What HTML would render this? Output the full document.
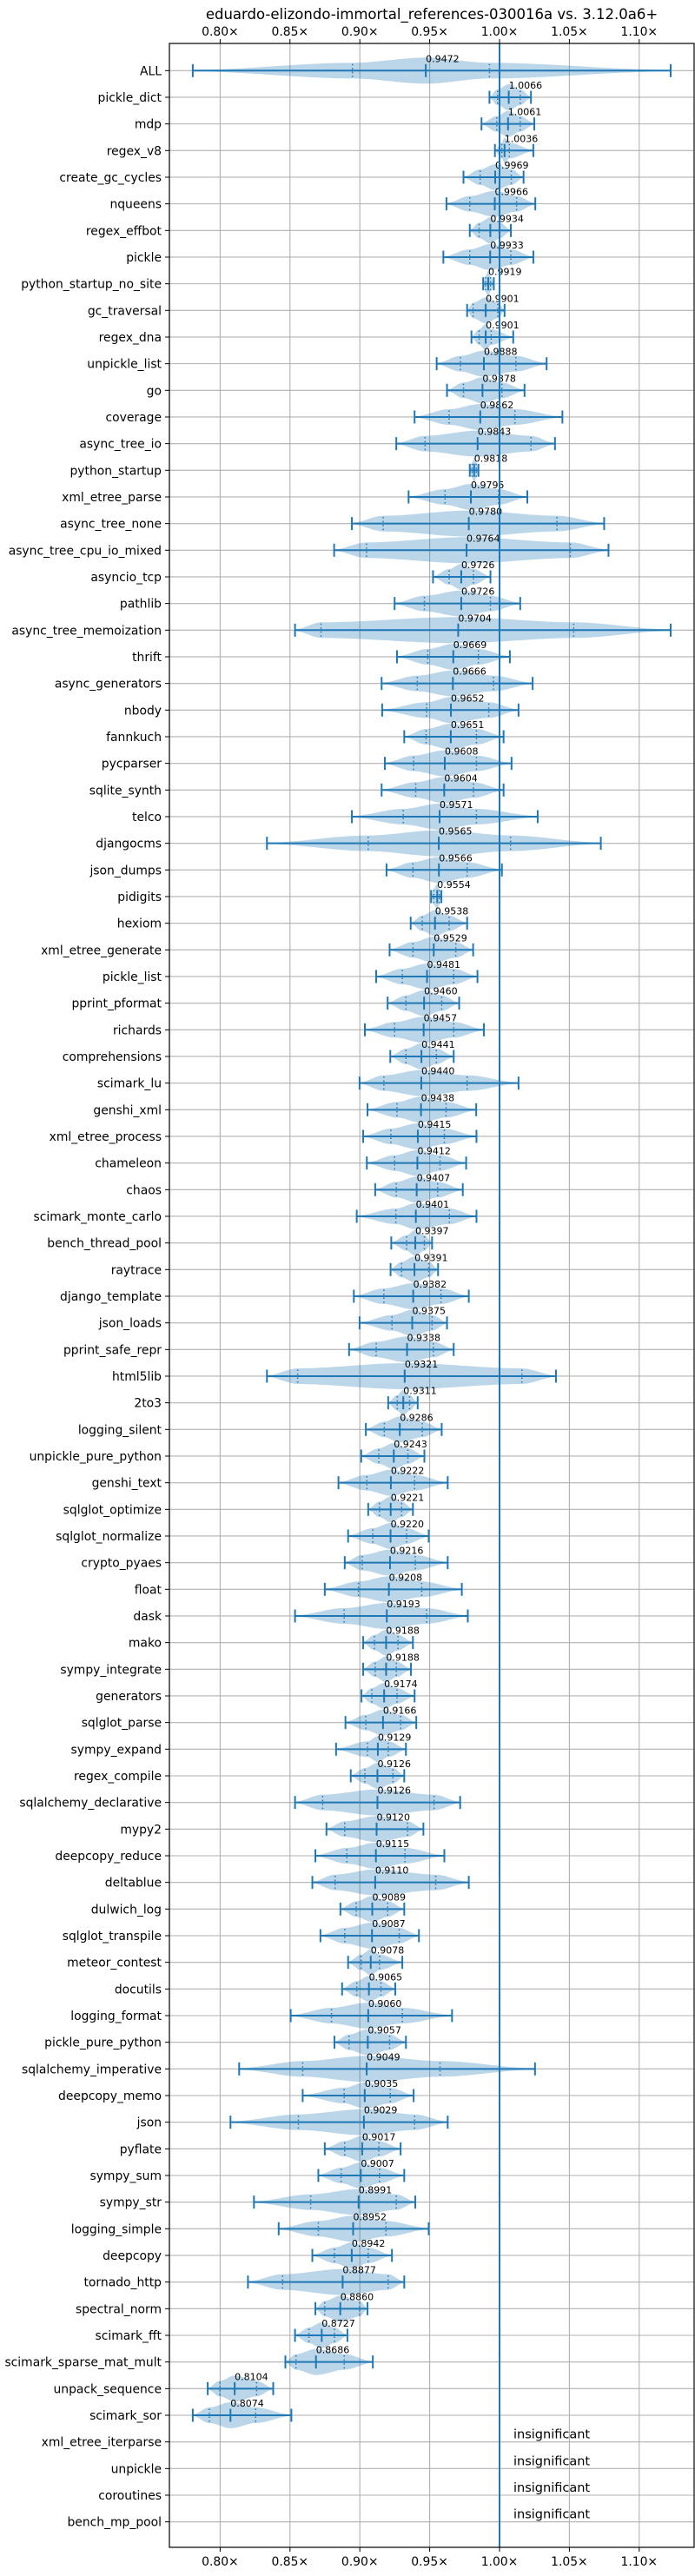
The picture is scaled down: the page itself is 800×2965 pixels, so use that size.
<!DOCTYPE html>
<html><head><meta charset="utf-8">
<style>
html,body{margin:0;padding:0;background:#fff;}
svg text{font-family:"DejaVu Sans","Liberation Sans",sans-serif;}
</style></head>
<body>
<svg id="chart" width="800" height="2960" viewBox="0 0 800 2960" xmlns="http://www.w3.org/2000/svg">
<text x="497" y="22" font-size="16.5" text-anchor="middle" fill="#000">eduardo-elizondo-immortal_references-030016a vs. 3.12.0a6+</text>
<g id="grid"></g>
<g id="marks"></g>
<g id="axes"></g>
</svg>
<script>
const categories = ["ALL","pickle_dict","mdp","regex_v8","create_gc_cycles","nqueens","regex_effbot","pickle","python_startup_no_site","gc_traversal","regex_dna","unpickle_list","go","coverage","async_tree_io","python_startup","xml_etree_parse","async_tree_none","async_tree_cpu_io_mixed","asyncio_tcp","pathlib","async_tree_memoization","thrift","async_generators","nbody","fannkuch","pycparser","sqlite_synth","telco","djangocms","json_dumps","pidigits","hexiom","xml_etree_generate","pickle_list","pprint_pformat","richards","comprehensions","scimark_lu","genshi_xml","xml_etree_process","chameleon","chaos","scimark_monte_carlo","bench_thread_pool","raytrace","django_template","json_loads","pprint_safe_repr","html5lib","2to3","logging_silent","unpickle_pure_python","genshi_text","sqlglot_optimize","sqlglot_normalize","crypto_pyaes","float","dask","mako","sympy_integrate","generators","sqlglot_parse","sympy_expand","regex_compile","sqlalchemy_declarative","mypy2","deepcopy_reduce","deltablue","dulwich_log","sqlglot_transpile","meteor_contest","docutils","logging_format","pickle_pure_python","sqlalchemy_imperative","deepcopy_memo","json","pyflate","sympy_sum","sympy_str","logging_simple","deepcopy","tornado_http","spectral_norm","scimark_fft","scimark_sparse_mat_mult","unpack_sequence","scimark_sor","xml_etree_iterparse","unpickle","coroutines","bench_mp_pool"];
const medians = [0.9472,1.0066,1.0061,1.0036,0.9969,0.9966,0.9934,0.9933,0.9919,0.9901,0.9901,0.9888,0.9878,0.9862,0.9843,0.9818,0.9795,0.9780,0.9764,0.9726,0.9726,0.9704,0.9669,0.9666,0.9652,0.9651,0.9608,0.9604,0.9571,0.9565,0.9566,0.9554,0.9538,0.9529,0.9481,0.9460,0.9457,0.9441,0.9440,0.9438,0.9415,0.9412,0.9407,0.9401,0.9397,0.9391,0.9382,0.9375,0.9338,0.9321,0.9311,0.9286,0.9243,0.9222,0.9221,0.9220,0.9216,0.9208,0.9193,0.9188,0.9188,0.9174,0.9166,0.9129,0.9126,0.9126,0.9120,0.9115,0.9110,0.9089,0.9087,0.9078,0.9065,0.9060,0.9057,0.9049,0.9035,0.9029,0.9017,0.9007,0.8991,0.8952,0.8942,0.8877,0.8860,0.8727,0.8686,0.8104,0.8074,null,null,null,null];
const mins = [0.7804,0.9928,0.9871,0.9967,0.9742,0.962,0.9787,0.9598,0.9883,0.9768,0.9799,0.955,0.9624,0.9392,0.9261,0.9787,0.9349,0.8943,0.8816,0.9524,0.9249,0.8536,0.9266,0.9156,0.916,0.9318,0.9179,0.9156,0.8943,0.8335,0.9191,0.951,0.9364,0.9213,0.9117,0.9199,0.9036,0.9218,0.8998,0.9055,0.9024,0.905,0.911,0.8978,0.9225,0.922,0.8957,0.8998,0.8923,0.8335,0.9203,0.9043,0.901,0.8847,0.906,0.8916,0.8892,0.8749,0.8536,0.9024,0.9024,0.9012,0.8897,0.883,0.8935,0.8536,0.8761,0.8682,0.866,0.8861,0.8718,0.8916,0.8873,0.8505,0.8818,0.8136,0.8591,0.8074,0.8749,0.8703,0.8242,0.8419,0.866,0.8199,0.8682,0.8536,0.8467,0.7911,0.7804,null,null,null,null];
const maxs = [1.1225,1.0225,1.0249,1.0242,1.0172,1.0256,1.0081,1.0242,0.9959,1.0036,1.0098,1.0337,1.0179,1.045,1.0397,0.9849,1.0199,1.0749,1.078,0.9935,1.0148,1.1225,1.0074,1.0237,1.0136,1.0029,1.0086,1.0029,1.0273,1.0725,1.0017,0.9584,0.9768,0.9811,0.9842,0.9711,0.9888,0.9672,1.0136,0.9833,0.9835,0.9761,0.9737,0.9835,0.9517,0.956,0.978,0.9624,0.9672,1.0404,0.9414,0.9586,0.9462,0.9629,0.938,0.9493,0.9629,0.973,0.9773,0.938,0.9366,0.9392,0.9404,0.933,0.9318,0.9718,0.9455,0.9605,0.978,0.9318,0.9423,0.9304,0.9254,0.966,0.933,1.0254,0.9385,0.9629,0.9292,0.9318,0.9397,0.9493,0.923,0.9318,0.9055,0.8911,0.9093,0.838,0.851,null,null,null,null];
const q1s = [0.8947,0.9986,0.998,1.0017,0.9861,0.9787,0.9854,0.9787,0.99,0.9811,0.9854,0.972,0.9742,0.9639,0.9467,0.9804,0.961,0.9167,0.9048,0.9639,0.9462,0.8722,0.9486,0.9411,0.9478,0.9474,0.9385,0.94,0.9311,0.906,0.938,0.9529,0.9447,0.938,0.9304,0.933,0.9249,0.933,0.9172,0.9266,0.9222,0.9249,0.9261,0.9258,0.9335,0.9299,0.9172,0.923,0.9117,0.8555,0.9268,0.9175,0.9136,0.905,0.9141,0.9093,0.9017,0.899,0.8888,0.9105,0.911,0.9086,0.9043,0.9055,0.9036,0.8734,0.8892,0.8907,0.8823,0.8974,0.8892,0.901,0.8978,0.8797,0.8923,0.8591,0.8888,0.856,0.8892,0.8866,0.8648,0.8703,0.8818,0.8447,0.8749,0.8636,0.8543,0.7998,0.7923,null,null,null,null];
const q3s = [0.9928,1.0148,1.0148,1.007,1.0084,1.0122,1.0002,1.0081,0.9935,0.9988,0.994,1.0117,1.0017,1.011,1.0225,0.9833,0.9993,1.0411,1.0507,0.9813,0.9935,1.0531,0.9849,0.9957,0.9923,0.9835,0.9835,0.9813,0.9835,1.0079,0.9768,0.9569,0.9639,0.9687,0.9672,0.9586,0.9672,0.9548,0.9768,0.9617,0.9605,0.9574,0.9557,0.9641,0.9462,0.9493,0.9581,0.9517,0.9526,1.016,0.9356,0.9447,0.9344,0.9392,0.9299,0.9335,0.9397,0.9443,0.9478,0.9273,0.9261,0.9266,0.9292,0.9203,0.9237,0.9531,0.9342,0.9323,0.9543,0.9199,0.9282,0.9141,0.9151,0.9304,0.9213,0.9574,0.9218,0.9392,0.9136,0.9141,0.9261,0.9187,0.906,0.9203,0.8998,0.8818,0.8888,0.8261,0.8254,null,null,null,null];
const xTicks = [0.80,0.85,0.90,0.95,1.00,1.05,1.10];
const xTickLabels = ["0.80x","0.85x","0.90x","0.95x","1.00x","1.05x","1.10x"];

const NS = "http://www.w3.org/2000/svg";
const L = 195, R = 799, T = 50, B = 2932;
const xS = v => 575 + (v - 1) * 1608;
const yS = i => 81.3 + i * 30.667;
const BLUE = "#1f77b4";
function mk(parent, tag, attrs, text) {
  const e = document.createElementNS(NS, tag);
  for (const k in attrs) e.setAttribute(k, attrs[k]);
  if (text !== undefined) e.textContent = text;
  parent.appendChild(e);
  return e;
}
const grid = document.getElementById('grid');
const marks = document.getElementById('marks');
const axes = document.getElementById('axes');

// vertical grid + tick labels
xTicks.forEach((t, k) => {
  const x = xS(t);
  const g = mk(grid, 'line', {x1: x, x2: x, y1: T, y2: B, stroke: '#b0b0b0', 'stroke-width': 1.1});
  
  
  mk(axes, 'line', {x1: x, x2: x, y1: T - 5, y2: T, stroke: '#000', 'stroke-width': 1});
  mk(axes, 'line', {x1: x, x2: x, y1: B, y2: B + 5, stroke: '#000', 'stroke-width': 1});
  const tt = mk(axes, 'text', {x: x, y: T - 9, 'font-size': 13.9, 'text-anchor': 'middle'}, xTickLabels[k].replace('x', '\u00d7'));
  
  
  const tb = mk(axes, 'text', {x: x, y: B + 21, 'font-size': 13.9, 'text-anchor': 'middle'}, xTickLabels[k].replace('x', '\u00d7'));
  
  
});

// horizontal grid + y labels
categories.forEach((c, i) => {
  const y = yS(i);
  const g = mk(grid, 'line', {x1: L, x2: R, y1: y, y2: y, stroke: '#b0b0b0', 'stroke-width': 1.1});
  
  
  mk(axes, 'line', {x1: L - 5, x2: L, y1: y, y2: y, stroke: '#000', 'stroke-width': 1});
  const t = mk(axes, 'text', {x: L - 9, y: y + 5, 'font-size': 13.9, 'text-anchor': 'end'}, c);
  
  
});

// violins
function widthAt(v, mn, q1, md, q3, mx) {
  const knots = [[mn, 0.06], [q1, 0.6], [md, 1], [q3, 0.6], [mx, 0.06]];
  for (let k = 0; k < knots.length - 1; k++) {
    const a = knots[k], b = knots[k + 1];
    if (v >= a[0] && v <= b[0]) {
      const t = b[0] === a[0] ? 0 : (v - a[0]) / (b[0] - a[0]);
      const s = t * t * (3 - 2 * t);
      return a[1] + (b[1] - a[1]) * s;
    }
  }
  return 0.06;
}
categories.forEach((c, i) => {
  const y = yS(i);
  const md = medians[i];
  if (md === null) {
    const t = mk(marks, 'text', {x: xS(1) + 16, y: y - 4, 'font-size': 14.5}, 'insignificant');
    
    
    return;
  }
  const mn = mins[i], mx = maxs[i], q1 = q1s[i], q3 = q3s[i];
  const H = 15;
  const N = 60;
  const top = [], bot = [];
  for (let k = 0; k <= N; k++) {
    const v = mn + (mx - mn) * k / N;
    const w = widthAt(v, mn, q1, md, q3, mx) * H;
    top.push(xS(v).toFixed(1) + ',' + (y - w).toFixed(1));
    bot.unshift(xS(v).toFixed(1) + ',' + (y + w).toFixed(1));
  }
  const body = mk(marks, 'polygon', {points: top.concat(bot).join(' '), fill: BLUE, 'fill-opacity': 0.3, stroke: 'none'});
  
  
  const bar = mk(marks, 'line', {x1: xS(mn), x2: xS(mx), y1: y, y2: y, stroke: BLUE, 'stroke-width': 2});
  
  
  [mn, mx].forEach(v => {
    const cap = mk(marks, 'line', {x1: xS(v), x2: xS(v), y1: y - 7.5, y2: y + 7.5, stroke: BLUE, 'stroke-width': 2});
    
    
  });
  const ml = mk(marks, 'line', {x1: xS(md), x2: xS(md), y1: y - 7.5, y2: y + 7.5, stroke: BLUE, 'stroke-width': 2});
  
  
  [q1, q3].forEach(v => {
    const q = mk(marks, 'line', {x1: xS(v), x2: xS(v), y1: y - 7.5, y2: y + 7.5, stroke: BLUE, 'stroke-width': 1.5, 'stroke-dasharray': '1.5,3'});
    
    
  });
  const lab = mk(marks, 'text', {x: xS(md), y: y - 10, 'font-size': 11}, md.toFixed(4));
  
  
});

// baseline at 1.00
const ref = mk(marks, 'line', {x1: xS(1), x2: xS(1), y1: T, y2: B, stroke: BLUE, 'stroke-width': 2});



// frame
const fr = mk(axes, 'rect', {x: L, y: T, width: R - L, height: B - T, fill: 'none', stroke: '#000', 'stroke-width': 1.2});


</script>
</body></html>
